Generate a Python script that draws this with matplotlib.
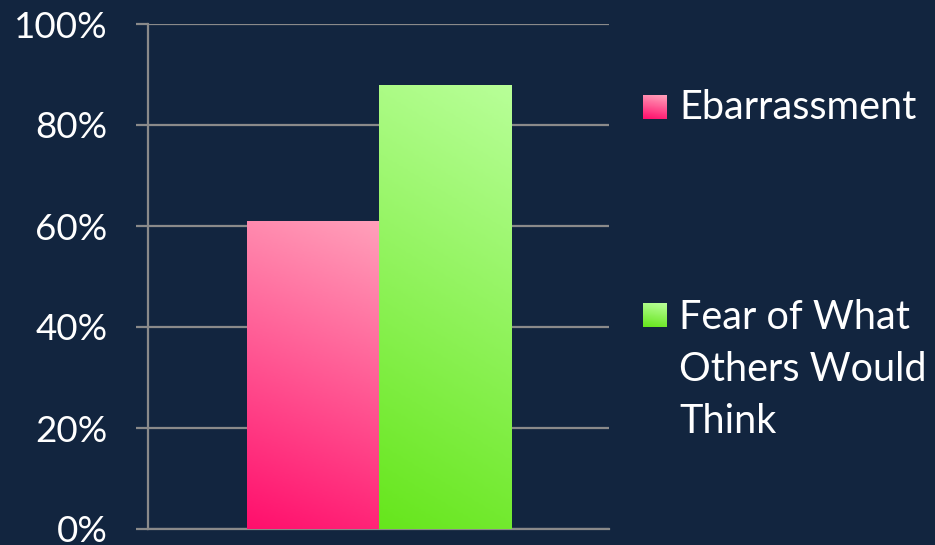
import numpy as np
import matplotlib.pyplot as plt
from matplotlib.colors import LinearSegmentedColormap

# values (percent)
labels = ["Ebarrassment", "Fear of What\nOthers Would\nThink"]
values = [61, 88]
yticks = [0, 20, 40, 60, 80, 100]

bg = "#12253f"
grid_col = "#8a8a8a"
grads = [("#ff0f6c", "#ffa0ba"), ("#66e61c", "#b8ff98")]  # (bottom, top)

plt.rcParams['font.family'] = ['Lato', 'DejaVu Sans']

fig = plt.figure(figsize=(9.35, 5.45), dpi=100, facecolor=bg)
ax = fig.add_axes([148 / 935, 16 / 545, 461 / 935, 505 / 545])
ax.set_facecolor(bg)

w = 132.5 / 461
xs = [-w / 2 + 0.002, w / 2 + 0.002]


def gradient_fill(ax, bar, c0, c1):
    # diagonal gradient, saturated at bottom-left
    cmap = LinearSegmentedColormap.from_list("g", [c0, c1])
    yy, xx = np.mgrid[0:1:200j, 0:1:60j]
    z = yy * 0.85 + xx * 0.15
    x0, y0 = bar.get_x(), bar.get_y()
    im = ax.imshow(z, cmap=cmap, origin="lower", aspect="auto",
                   extent=[x0, x0 + bar.get_width(), y0, y0 + bar.get_height()],
                   zorder=3, vmin=0, vmax=1)
    im.set_clip_path(bar)


bars = ax.bar(xs, values, width=w, color="none", edgecolor="none", zorder=3)
for b, (c0, c1) in zip(bars, grads):
    gradient_fill(ax, b, c0, c1)

ax.set_xlim(-0.5, 0.5)
ax.set_ylim(0, 100)
ax.set_yticks(yticks)
ax.set_yticklabels([f"{t}%" for t in yticks])
ax.set_xticks([])
ax.yaxis.grid(True, color=grid_col, lw=1.6)
ax.set_axisbelow(True)
for s in ["top", "right"]:
    ax.spines[s].set_visible(False)
ax.spines["left"].set_color(grid_col)
ax.spines["left"].set_linewidth(1.6)
ax.spines["bottom"].set_color(grid_col)
ax.spines["bottom"].set_linewidth(1.6)
ax.tick_params(axis="y", colors=grid_col, length=9, width=1.6, pad=20,
               labelcolor="white", labelsize=26.5)

# legend drawn by hand
sq_y = [107 / 545, 315 / 545]
txt_top = [89 / 545, 299 / 545]
for (c0, c1), lab, yc, yt in zip(grads, labels, sq_y, txt_top):
    sq = fig.add_axes([643 / 935, 1 - yc - 12 / 545, 24 / 935, 24 / 545])
    cmap = LinearSegmentedColormap.from_list("g", [c0, c1])
    yy, xx = np.mgrid[0:1:20j, 0:1:20j]
    sq.imshow(yy * 0.85 + xx * 0.15, cmap=cmap, origin="lower", aspect="auto")
    sq.axis("off")
    fig.text(679 / 935, 1 - yt, lab, color="white", fontsize=28.5,
             va="top", ha="left", linespacing=1.5)

fig.savefig("out.png", dpi=100, facecolor=bg)
